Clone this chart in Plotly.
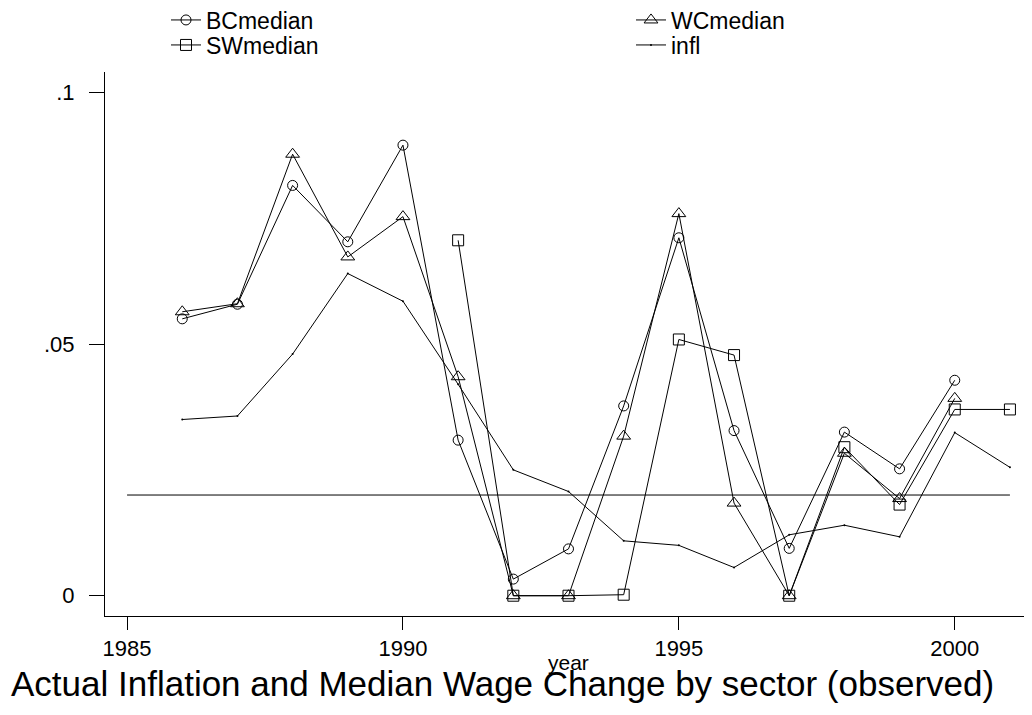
import plotly.graph_objects as go

years = [1986, 1987, 1988, 1989, 1990, 1991, 1992, 1993, 1994, 1995,
         1996, 1997, 1998, 1999, 2000, 2001]
bc_median = [0.0550, 0.0579, 0.0815, 0.0703, 0.0895, 0.0309, 0.0033, 0.0093,
             0.0377, 0.0711, 0.0328, 0.0094, 0.0325, 0.0252, 0.0428, None]
wc_median = [0.0564, 0.0580, 0.0877, 0.0673, 0.0753, 0.0435, 0.0, 0.0,
             0.0317, 0.0759, 0.0184, 0.0, 0.0283, 0.0193, 0.0392, None]
sw_median = [None, None, None, None, None, 0.0706, 0.0, 0.0,
             0.0002, 0.0509, 0.0478, 0.0, 0.0295, 0.0181, 0.0370, 0.0370]
infl = [0.0350, 0.0357, 0.0480, 0.0640, 0.0585, 0.0420, 0.0250, 0.0207,
        0.0109, 0.0100, 0.0056, 0.0121, 0.0140, 0.0117, 0.0324, 0.0255]
target_years = [1985, 2001]
target_value = [0.02, 0.02]

y_tickvals = [0, 0.05, 0.1]
y_ticktext = ["0", ".05", ".1"]
x_tickvals = [1985, 1990, 1995, 2000]
x_ticktext = ["1985", "1990", "1995", "2000"]

FONT = "Liberation Sans, Arial, sans-serif"
BLACK = "#000000"

# page has an 8px body margin: figure is drawn 8px right/down
W, H = 1024, 707
ML, MT, MB = 97, 64, 99
PLOT_W = W - ML
PLOT_H = H - MT - MB
PLOT_BOTTOM = H - MB


def px_x(p):
    return (p - ML) / PLOT_W


def px_y(p):
    return (PLOT_BOTTOM - p) / PLOT_H


fig = go.Figure()
fig.add_trace(go.Scatter(x=years, y=bc_median, name="BCmedian", mode="lines+markers",
                         legend="legend",
                         line=dict(color=BLACK, width=1),
                         marker=dict(symbol="circle-open", size=10, color=BLACK, line=dict(width=1))))
fig.add_trace(go.Scatter(x=years, y=wc_median, name="WCmedian", mode="lines+markers",
                         legend="legend2",
                         line=dict(color=BLACK, width=1),
                         marker=dict(symbol="triangle-up-open", size=12, color=BLACK, line=dict(width=1))))
fig.add_trace(go.Scatter(x=years, y=sw_median, name="SWmedian", mode="lines+markers",
                         legend="legend3",
                         line=dict(color=BLACK, width=1),
                         marker=dict(symbol="square-open", size=11, color=BLACK, line=dict(width=1))))
fig.add_trace(go.Scatter(x=years, y=infl, name="infl", mode="lines+markers",
                         legend="legend4",
                         line=dict(color=BLACK, width=1),
                         marker=dict(symbol="circle", size=2, color=BLACK)))
fig.add_trace(go.Scatter(x=target_years, y=target_value, mode="lines", showlegend=False,
                         line=dict(color=BLACK, width=1), hoverinfo="skip"))

leg_common = dict(xanchor="left", yanchor="middle", xref="paper", yref="container",
                  bgcolor="rgba(0,0,0,0)",
                  font=dict(size=23, family=FONT, color=BLACK))
col1, col2 = px_x(158), px_x(623)
row1, row2 = 1 - 12 / H, 1 - 37 / H

fig.update_layout(
    width=W, height=H,
    margin=dict(l=ML, r=0, t=MT, b=MB),
    paper_bgcolor="white", plot_bgcolor="white",
    font=dict(family=FONT, color=BLACK, size=22),
    showlegend=True,
    legend=dict(x=col1, y=row1, **leg_common),
    legend2=dict(x=col2, y=row1, **leg_common),
    legend3=dict(x=col1, y=row2, **leg_common),
    legend4=dict(x=col2, y=row2, **leg_common),
    xaxis=dict(range=[1984.6, 2001.4], showgrid=False, zeroline=False,
               showline=True, linecolor=BLACK, linewidth=1,
               ticks="outside", ticklen=13, tickcolor=BLACK, tickwidth=1,
               tickvals=x_tickvals, ticktext=x_ticktext,
               tickfont=dict(size=22, family=FONT, color=BLACK)),
    yaxis=dict(range=[-0.00403, 0.10403], showgrid=False, zeroline=False,
               showline=True, linecolor=BLACK, linewidth=1,
               ticks="outside", ticklen=15, tickcolor=BLACK, tickwidth=1,
               tickvals=y_tickvals, ticktext=y_ticktext,
               tickfont=dict(size=22, family=FONT, color=BLACK),
               ticklabelstandoff=10),
    annotations=[
        dict(text="year", xref="paper", yref="paper", x=0.5, y=px_y(654),
             xanchor="center", yanchor="middle", showarrow=False,
             font=dict(size=21, family=FONT, color=BLACK)),
        dict(text="Actual Inflation and Median Wage Change by sector (observed)",
             xref="paper", yref="paper", x=px_x(494), y=px_y(675),
             xanchor="center", yanchor="middle", showarrow=False,
             font=dict(size=35, family=FONT, color=BLACK)),
    ],
)

fig.write_html("out.html")
